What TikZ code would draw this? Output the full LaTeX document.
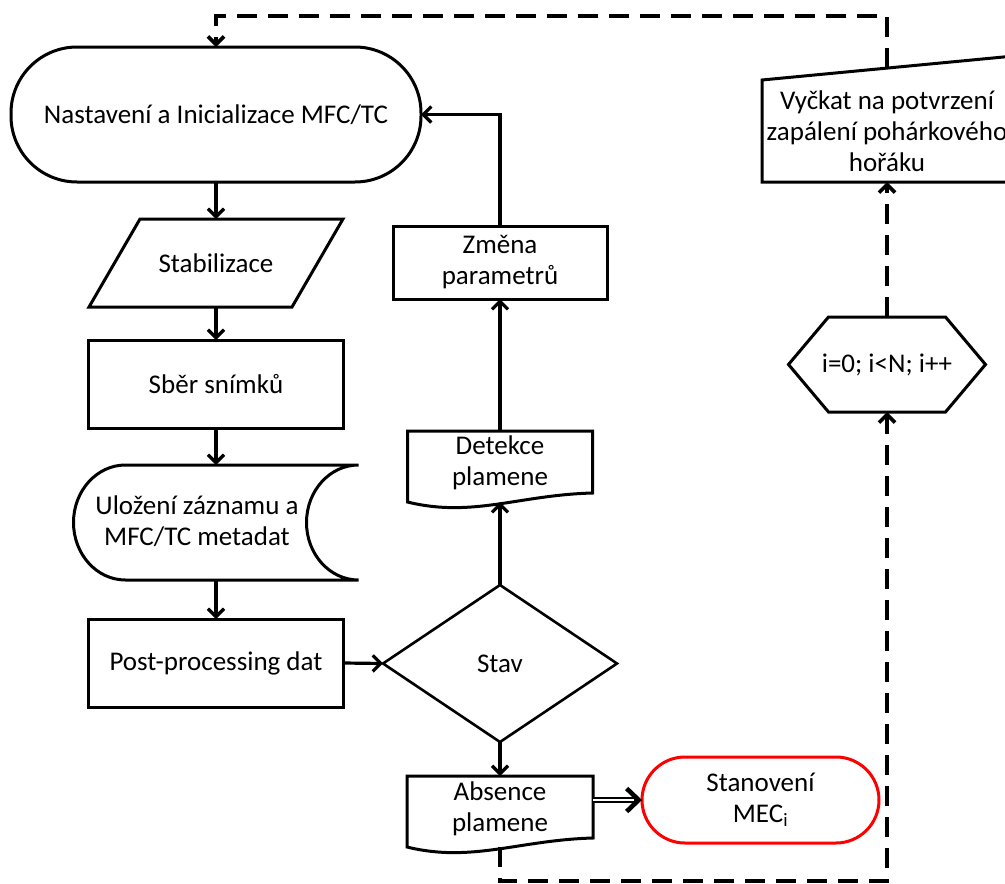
\documentclass[tikz,border=0pt]{standalone}
\usepackage{fontspec}
\setmainfont{Carlito}
\usetikzlibrary{arrows.meta,shapes.geometric,calc}

\begin{document}
\begin{tikzpicture}[x=1pt,y=-1pt,
  every node/.style={font=\fontsize{27}{31}\selectfont, align=center, inner sep=0pt, outer sep=0pt},
  box/.style={draw, line width=3pt},
  flow/.style={line width=3.2pt, -{Straight Barb[length=8pt,width=16pt]}},
  dbl/.style={double, double distance=2.6pt, line width=1.4pt},
  bigtip/.style={line width=4.6pt, -{Straight Barb[length=12pt,width=23pt]}},
  loop/.style={line width=3.6pt, dash pattern=on 20pt off 11pt, -{Straight Barb[length=8pt,width=16pt]}}]

\useasboundingbox (0,0) rectangle (1005,884);
\clip (0,0) rectangle (1005,884);

% left column
\node[box, rounded corners=66pt, minimum width=410pt, minimum height=135pt] (init) at (216,114.5) {Nastavení a Inicializace MFC/TC};

\node[minimum width=254pt, minimum height=88pt] (stab) at (216,263) {Stabilizace};
\draw[box] ([xshift=51pt]stab.north west) -- (stab.north east)
  -- ([xshift=-51pt]stab.south east) -- (stab.south west) -- cycle;

\node[box, minimum width=255pt, minimum height=88pt] (sber) at (216,384) {Sběr snímků};

\node[minimum width=285pt, minimum height=115pt] (store) at (216,522.5) {};
\node (storetxt) at (197,521) {Uložení záznamu a\\MFC/TC metadat};
\draw[box] (store.north east) arc[start angle=90, end angle=270, x radius=52pt, y radius=57.5pt]
  -- ([xshift=52pt]store.south west) arc[start angle=270, end angle=90, x radius=52pt, y radius=57.5pt]
  -- cycle;

\node[box, minimum width=255pt, minimum height=88pt] (post) at (216,663) {Post-processing dat};

% middle column
\node[box, diamond, line width=2.6pt, minimum width=234pt, minimum height=157pt] (stav) at (500,663.5) {Stav};

\node[minimum width=185pt, minimum height=71pt] (det) at (500,466.5) {};
\node (dettxt) at (500,463) {Detekce\\plamene};
\draw[box] (det.south west) -- (det.north west) -- (det.north east) -- ([yshift=9pt]det.south east)
  .. controls ([xshift=-74pt,yshift=7pt]det.south east) and ([xshift=65pt,yshift=-16pt]det.south west) .. (det.south west) -- cycle;

\node[box, minimum width=214pt, minimum height=73pt] (zm) at (500,262.5) {Změna\\parametrů};

\node[minimum width=186pt, minimum height=71pt] (abs) at (500,811.5) {};
\node (abstxt) at (500,809) {Absence\\plamene};
\draw[box] (abs.south west) -- (abs.north west) -- (abs.north east) -- ([yshift=9pt]abs.south east)
  .. controls ([xshift=-74pt,yshift=7pt]abs.south east) and ([xshift=65pt,yshift=-16pt]abs.south west) .. (abs.south west) -- cycle;

\node[draw=red, line width=3pt, rounded corners=43pt, minimum width=237pt, minimum height=86pt] (mec) at (760.5,800) {Stanovení\\MEC\textsubscript{i}};

% right column
\node[minimum width=197pt, minimum height=95pt] (hex) at (887,364.5) {i=0; i<N; i++};
\draw[box] (hex.west) -- ([xshift=40pt]hex.north west) -- ([xshift=-40pt]hex.north east)
  -- (hex.east) -- ([xshift=-40pt]hex.south east) -- ([xshift=40pt]hex.south west) -- cycle;

\node[minimum width=252pt, minimum height=102pt] (wait) at (887,131) {Vyčkat na potvrzení\\zapálení pohárkového\\hořáku};
\draw[box] (762,80) -- (1014,56) -- (1014,182) -- (762,182) -- cycle;
\coordinate (waittop) at (887,68);

% loop-back corners
\coordinate (loopL) at (500,881);
\coordinate (loopR) at (887,881);
\coordinate (topR) at (887,16);
\coordinate (topL) at (216,16);

% connectors
\draw[flow] (init.south) -- (stab.north);
\draw[flow] (stab.south) -- (sber.north);
\draw[flow] (sber.south) -- (store.north);
\draw[flow] (store.south) -- (post.north);
\draw[flow] (post.east) -- (stav.west);
\draw[flow] (stav.north) -- (det.south);
\draw[flow] (det.north) -- (zm.south);
\draw[flow] (zm.north) |- (init.east);
\draw[flow] (stav.south) -- (abs.north);
\draw[dbl, shorten >=6pt] (abs.east |- mec.west) -- (mec.west);
\draw[bigtip] ([xshift=-8pt]mec.west) -- (mec.west);

\draw[loop] (abs.south) -- (loopL) -- (loopR) -- (hex.south);
\draw[loop] (hex.north) -- (wait.south);
\draw[loop] (waittop) -- (topR) -- (topL) -- (init.north);
\end{tikzpicture}
\end{document}
